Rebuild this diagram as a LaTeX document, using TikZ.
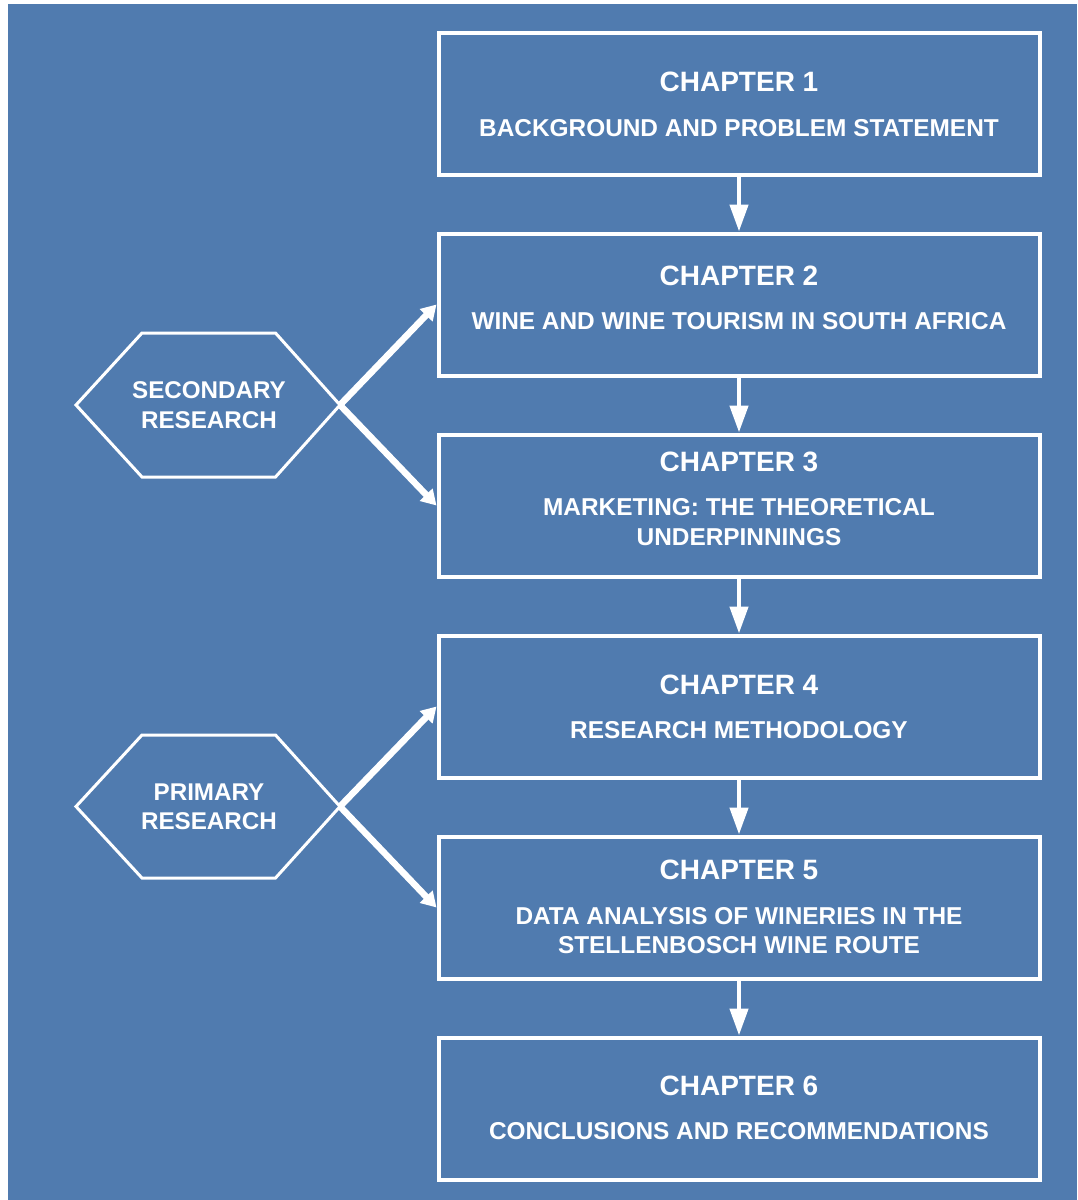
\documentclass[tikz,border=0pt]{standalone}
\usepackage{fontspec}
\setmainfont{Liberation Sans}
\usetikzlibrary{arrows.meta,calc}
\definecolor{panel}{RGB}{80,123,175}

\begin{document}
\begin{tikzpicture}[x=1pt,y=-1pt,
  chapbox/.style={draw=white, line width=4pt, minimum width=601pt, minimum height=142pt, inner sep=0pt},
  chaptitle/.style={text=white, font=\fontsize{28}{34}\selectfont\bfseries, inner sep=0pt},
  chapsub/.style={text=white, font=\fontsize{24.4}{29.5}\selectfont\bfseries, align=center, inner sep=0pt},
  hexlabel/.style={text=white, font=\fontsize{24.2}{29.5}\selectfont\bfseries, align=center, inner sep=0pt},
  hexline/.style={draw=white, line width=3pt, line join=miter},
  flowarrow/.style={draw=white, line width=4.5pt, -{Triangle[length=27pt,width=18pt]}},
  feedarrow/.style={draw=white, line width=6.5pt, -{Triangle[length=15pt,width=17pt]}},
]
\useasboundingbox (0,0) rectangle (1077,1200);
\fill[white] (0,0) rectangle (1077,1200);
\fill[panel] (8,4) rectangle (1077,1200);

% chapter boxes
\node[chapbox] (b1) at (739,103.5) {};
\node[chapbox] (b2) at (739,304.5) {};
\node[chapbox] (b3) at (739,505.5) {};
\node[chapbox] (b4) at (739,706.5) {};
\node[chapbox] (b5) at (739,907.5) {};
\node[chapbox] (b6) at (739,1108.5) {};

% chapter headings and subjects
\node[chaptitle] (t1) at ($(b1.north)+(0,51)$) {CHAPTER 1};
\node[chapsub]   (s1) at ($(b1.north)+(0,97.5)$) {BACKGROUND AND PROBLEM STATEMENT};
\node[chaptitle] (t2) at ($(b2.north)+(0,44)$) {CHAPTER 2};
\node[chapsub]   (s2) at ($(b2.north)+(0,89.5)$) {WINE AND WINE TOURISM IN SOUTH AFRICA};
\node[chaptitle] (t3) at ($(b3.north)+(0,29)$) {CHAPTER 3};
\node[chapsub]   (s3) at ($(b3.north)+(0,89.5)$) {MARKETING: THE THEORETICAL\\UNDERPINNINGS};
\node[chaptitle] (t4) at ($(b4.north)+(0,51)$) {CHAPTER 4};
\node[chapsub]   (s4) at ($(b4.north)+(0,96.5)$) {RESEARCH METHODOLOGY};
\node[chaptitle] (t5) at ($(b5.north)+(0,35)$) {CHAPTER 5};
\node[chapsub]   (s5) at ($(b5.north)+(0,96)$) {DATA ANALYSIS OF WINERIES IN THE\\STELLENBOSCH WINE ROUTE};
\node[chaptitle] (t6) at ($(b6.north)+(0,50)$) {CHAPTER 6};
\node[chapsub]   (s6) at ($(b6.north)+(0,95.5)$) {CONCLUSIONS AND RECOMMENDATIONS};

% flow between chapters
\draw[flowarrow] (b1.south) -- (b2.north);
\draw[flowarrow] (b2.south) -- (b3.north);
\draw[flowarrow] (b3.south) -- (b4.north);
\draw[flowarrow] (b4.south) -- (b5.north);
\draw[flowarrow] (b5.south) -- (b6.north);

% research type hexagons
\draw[hexline] (76,405) -- (142,333) -- (275.5,333) -- (340,405) -- (275.5,477) -- (142,477) -- cycle;
\coordinate (sectip) at (340,405);
\node[hexlabel] (sec) at (209,405) {SECONDARY\\RESEARCH};

\draw[hexline] (76,806.5) -- (142,735) -- (275.5,735) -- (340,806.5) -- (275.5,878) -- (142,878) -- cycle;
\coordinate (pritip) at (340,806.5);
\node[hexlabel] (pri) at (209,807) {PRIMARY\\RESEARCH};

% research feeding the chapters
\draw[feedarrow] (sectip) -- (b2.west);
\draw[feedarrow] (sectip) -- (b3.west);
\draw[feedarrow] (pritip) -- (b4.west);
\draw[feedarrow] (pritip) -- (b5.west);
\end{tikzpicture}
\end{document}
